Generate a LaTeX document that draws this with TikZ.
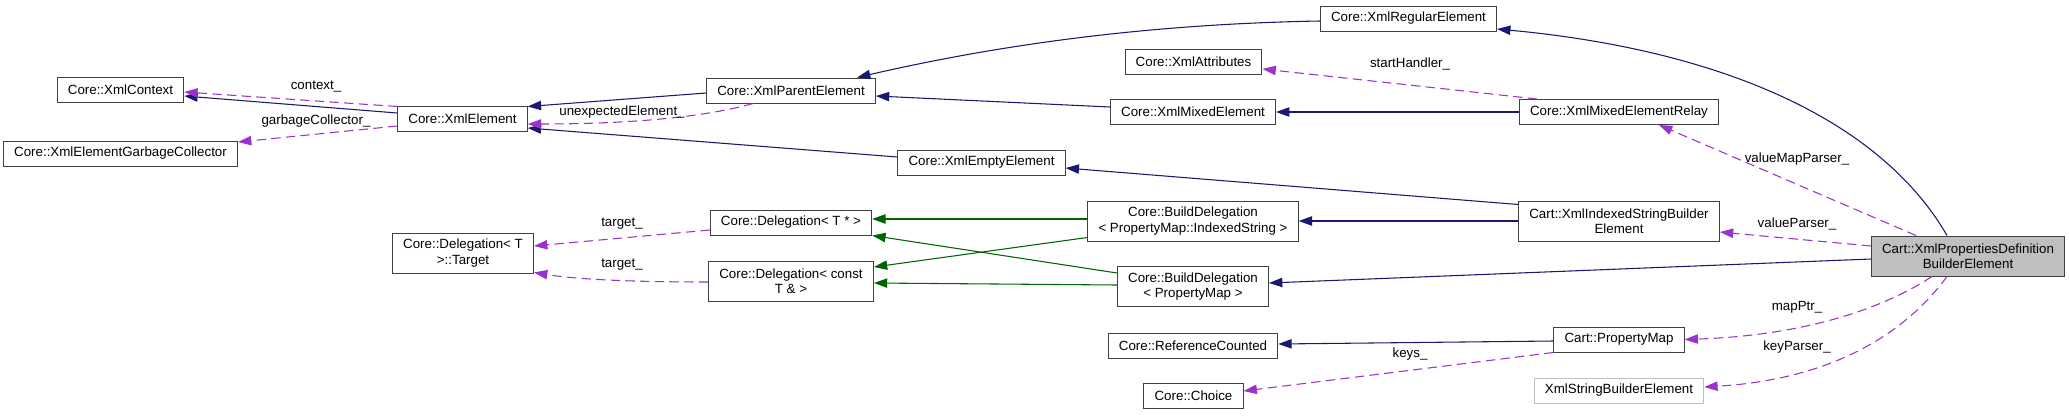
\documentclass[tikz,border=0pt]{standalone}
\usepackage{fontspec}
\setmainfont{Liberation Sans}
\usetikzlibrary{arrows.meta,calc}
\definecolor{inhblue}{HTML}{191970}
\definecolor{usepurple}{HTML}{9A32CD}
\definecolor{tmplgreen}{HTML}{006400}
\definecolor{boxgray}{HTML}{BFBFBF}
\begin{document}
\begin{tikzpicture}[x=0.75pt,y=-0.75pt,
    cls/.style={draw=black!75,line width=0.75pt,fill=white,inner xsep=8pt,inner ysep=0pt,
      minimum height=18.75pt,align=center,font=\fontsize{10}{11.5}\selectfont},
    cls2/.style={cls,minimum height=30pt},
    inh/.style={draw=inhblue,line width=0.8pt,-{Triangle[length=10pt,width=7pt]}},
    tmpl/.style={inh,draw=tmplgreen},
    use/.style={inh,draw=usepurple,dash pattern=on 7pt off 4pt},
    lbl/.style={inner sep=0pt,font=\fontsize{10}{11.5}\selectfont}]
    \useasboundingbox (0,0) rectangle (2069,415);
    \node[cls] (ctx) at (120.5,89.5) {Core::XmlContext};
    \node[cls] (gc) at (120.5,153.5) {Core::XmlElementGarbageCollector};
    \node[cls] (elem) at (462.5,118.5) {Core::XmlElement};
    \node[cls2] (tgt) at (463,253) {Core::Delegation< T\\>::Target};
    \node[cls] (parent) at (791,90.5) {Core::XmlParentElement};
    \node[cls] (empty) at (981.5,162.5) {Core::XmlEmptyElement};
    \node[cls] (delptr) at (791,222.5) {Core::Delegation< T * >};
    \node[cls2] (delref) at (791,281) {Core::Delegation< const\\T \& >};
    \node[cls] (regular) at (1408.5,18.5) {Core::XmlRegularElement};
    \node[cls] (attrs) at (1193.5,61.5) {Core::XmlAttributes};
    \node[cls] (mixed) at (1193,112) {Core::XmlMixedElement};
    \node[cls] (relay) at (1619,112) {Core::XmlMixedElementRelay};
    \node[cls2] (bdis) at (1193,221) {Core::BuildDelegation\\< PropertyMap::IndexedString >};
    \node[cls2] (bdpm) at (1193,286.5) {Core::BuildDelegation\\< PropertyMap >};
    \node[cls] (refc) at (1193,345.5) {Core::ReferenceCounted};
    \node[cls] (choice) at (1193.5,395.5) {Core::Choice};
    \node[cls2] (isb) at (1619,221) {Cart::XmlIndexedStringBuilder\\Element};
    \node[cls] (pmap) at (1619,339.5) {Cart::PropertyMap};
    \node[cls,draw=boxgray] (sbe) at (1619,390.5) {XmlStringBuilderElement};
    \node[cls2,fill=boxgray] (pdbe) at (1968,256) {Cart::XmlPropertiesDefinition\\BuilderElement};

    \draw[inh] ($(elem.west)+(0,-5.5)$) -- ($(ctx.east)+(0,6.5)$);
    \draw[inh] ($(parent.west)+(0,2.5)$) -- ($(elem.north east)+(0,1)$);
    \draw[inh] ($(empty.west)+(0,-5.5)$) -- ($(elem.east)+(0,9.5)$);
    \draw[inh] ($(regular.west)+(0,2.5)$) .. controls +(-171,3) and +(143,-33) .. ($(parent.north)+(66,0)$);
    \draw[inh] ($(mixed.west)+(0,-5)$) -- ($(parent.east)+(0,5.5)$);
    \draw[inh] (relay) -- (mixed);
    \draw[inh] ($(isb.north west)+(0,4)$) -- ($(empty.east)+(0,5.5)$);
    \draw[inh] (isb) -- (bdis);
    \draw[inh] ($(pdbe.north)+(-21,0)$) .. controls +(-67,-116) and +(224,21) .. ($(regular.east)+(0,10.5)$);
    \draw[inh] ($(pdbe.west)+(0,3)$) -- ($(bdpm.east)+(0,-3.5)$);
    \draw[inh] ($(pmap.west)+(0,1.5)$) -- ($(refc.east)+(0,-1.5)$);

    \draw[tmpl] ($(bdis.west)+(0,-2)$) -- ($(delptr.east)+(0,-3.5)$);
    \draw[tmpl] ($(bdis.south west)+(0,-4)$) -- ($(delref.east)+(0,-14)$);
    \draw[tmpl] ($(bdpm.west)+(0,-13.5)$) -- (delptr.south east);
    \draw[tmpl] ($(bdpm.west)+(0,-1.5)$) -- ($(delref.east)+(0,2)$);

    \draw[use] ($(elem.north west)+(0,1)$) -- ($(ctx.east)+(0,2.5)$);
    \draw[use] ($(elem.west)+(0,7.5)$) -- ($(gc.east)+(0,-11.5)$);
    \draw[use] ($(parent.south)+(-38,0)$) .. controls +(-53,15) and +(93,0) .. ($(elem.east)+(0,5.5)$);
    \draw[use] ($(delptr.west)+(0,7.5)$) -- ($(tgt.east)+(0,-7)$);
    \draw[use] ($(delref.west)+(0,1)$) .. controls +(-89,0) and +(37,6) .. ($(tgt.south east)+(0,-1)$);
    \draw[use] ($(relay.north)+(-82,0)$) -- ($(attrs.east)+(0,7.5)$);
    \draw[use] ($(pdbe.north)+(-52,0)$) -- ($(relay.south)+(40,0)$);
    \draw[use] ($(pdbe.west)+(0,-10)$) -- ($(isb.east)+(0,11)$);
    \draw[use] ($(pdbe.south)+(-36,0)$) .. controls +(-52,34) and +(116,-4) .. (pmap.east);
    \draw[use] ($(pdbe.south)+(-21,0)$) .. controls +(-47,64) and +(118,-7) .. ($(sbe.east)+(0,-3.5)$);
    \draw[use] (pmap.south west) -- ($(choice.east)+(0,-4.5)$);

    \node[lbl] (lctx) at (316,87) {context\_};
    \node[lbl] (lgc) at (316,121) {garbageCollector\_};
    \node[lbl] (lunexp) at (622,112) {unexpectedElement\_};
    \node[lbl] (ltgtptr) at (622,224) {target\_};
    \node[lbl] (ltgtref) at (622,265) {target\_};
    \node[lbl] (lstart) at (1410,64) {startHandler\_};
    \node[lbl] (lvmap) at (1797,159) {valueMapParser\_};
    \node[lbl] (lval) at (1797,224) {valueParser\_};
    \node[lbl] (lmap) at (1797,307) {mapPtr\_};
    \node[lbl] (lkey) at (1797,347) {keyParser\_};
    \node[lbl] (lkeys) at (1410,354) {keys\_};
\end{tikzpicture}
\end{document}
